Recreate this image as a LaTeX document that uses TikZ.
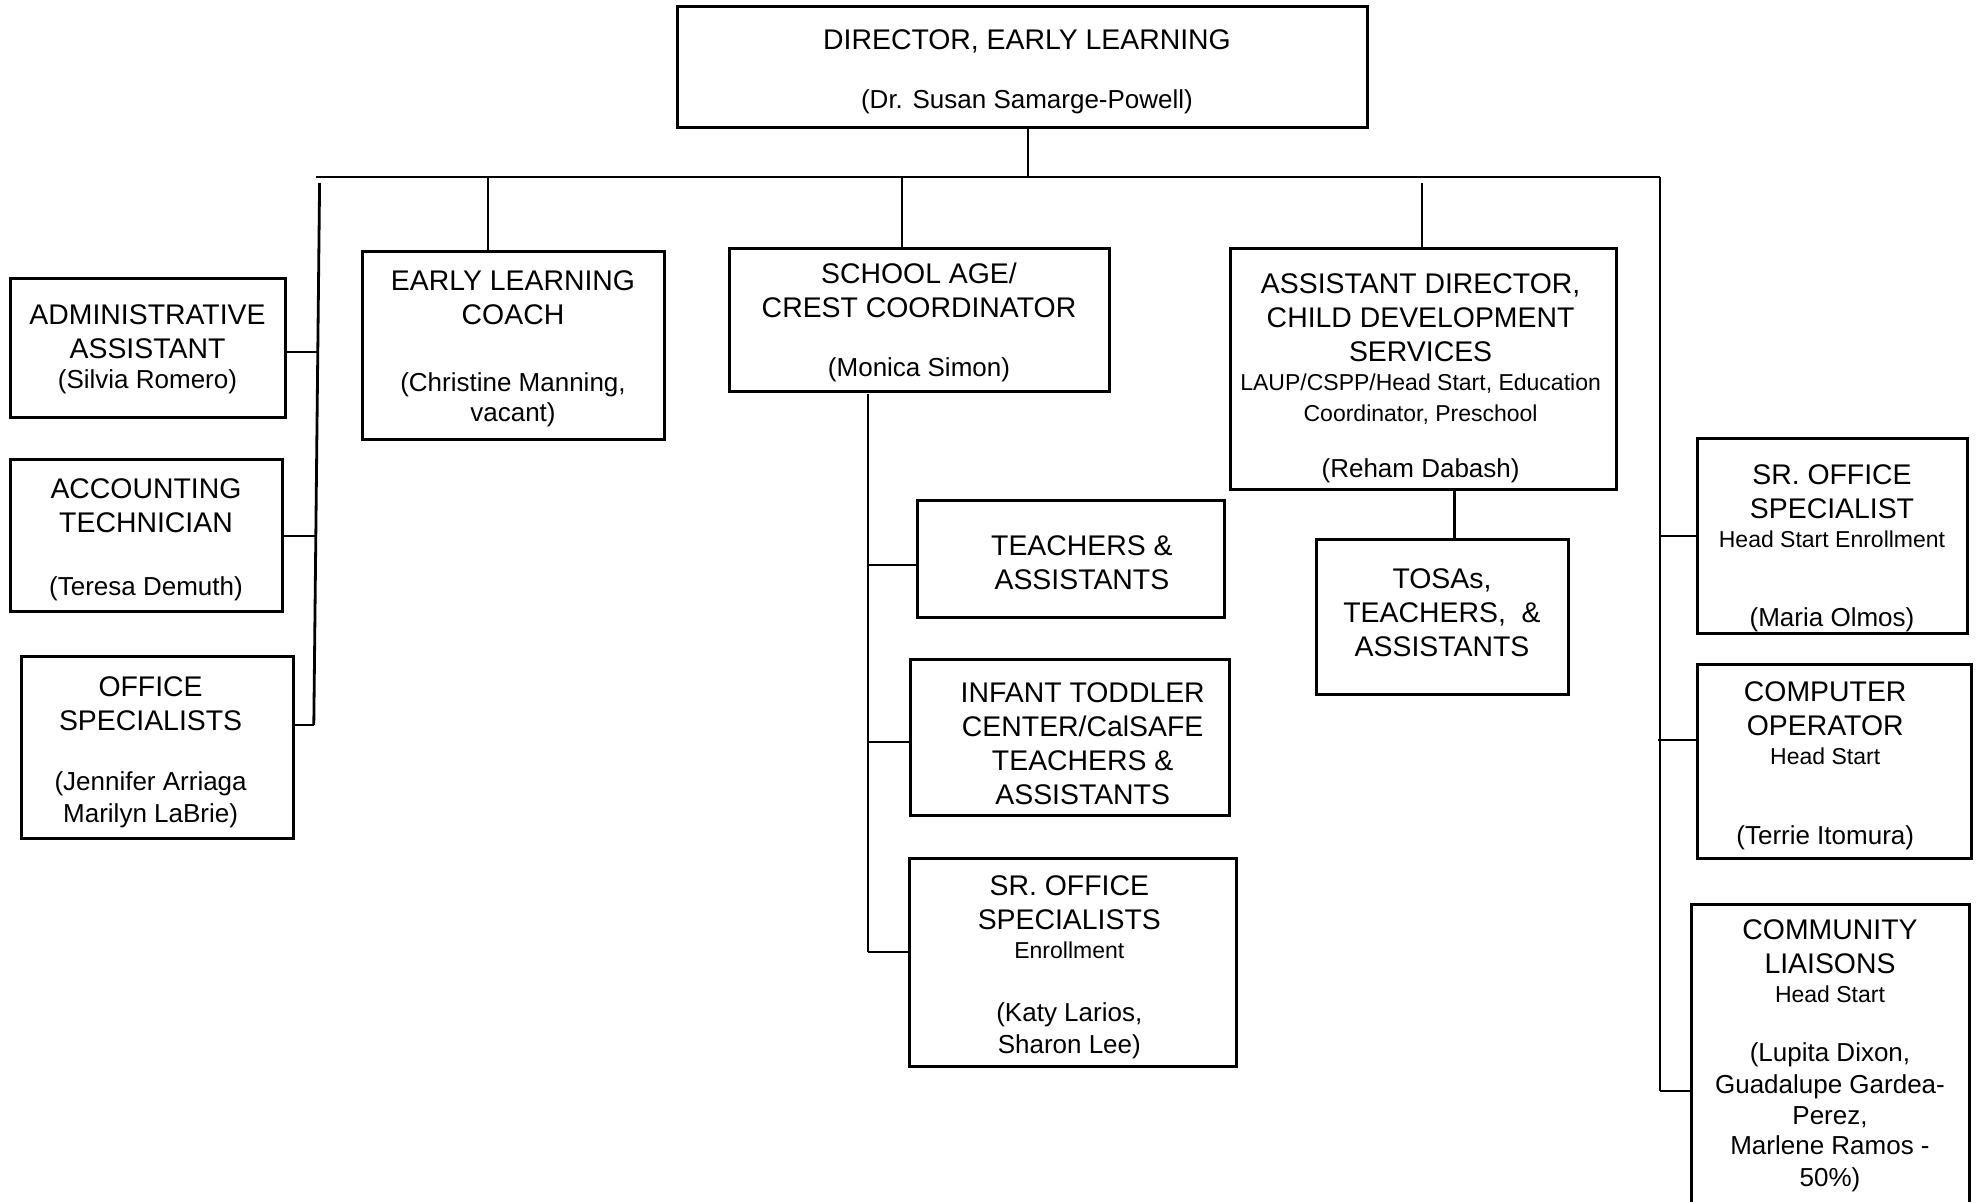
\documentclass[tikz,border=0pt]{standalone}
\usepackage{fontspec}
\setmainfont{Liberation Sans}
\usetikzlibrary{fit}

\newcommand\titre{\fontsize{14.2}{17}\selectfont}
\newcommand\nom{\fontsize{13}{15.6}\selectfont}
\newcommand\petit{\fontsize{11.5}{14}\selectfont}

\begin{document}
\begin{tikzpicture}[x=0.5pt,y=-0.5pt,
  boite/.style={draw,line width=1.5pt,inner sep=0pt},
  texte/.style={align=center,font=\titre,inner sep=0pt},
  trait/.style={line width=1.4pt}]

\useasboundingbox (0,0) rectangle (1978,1201);

% directeur

\node[boite,fit={(677,6) (1367,127)}] (dir) {};
\node[texte,xshift=2.5pt,yshift=-2.7pt] (dir_t) at (dir) {DIRECTOR, EARLY LEARNING\\[12.5pt] {\nom (Dr. Susan Samarge-Powell)}};

% ligne principale

\coordinate (bus_g) at (316,177) ;
\coordinate (bus_d) at (1660,177) ;
\coordinate (p_dir) at (1028,177) ;
\draw[trait] (p_dir |- dir.south) -- (p_dir) ;
\draw[trait] (bus_g) -- (bus_d) ;

% colonne de gauche

\node[boite,fit={(10,278) (285,417)}] (adm) {};
\node[texte,yshift=-0.8pt] (adm_t) at (adm) {ADMINISTRATIVE\\ ASSISTANT\\[-2pt] {\nom (Silvia Romero)}};
\node[boite,fit={(10,459) (282,611)}] (compta) {};
\node[texte,yshift=-2.4pt] (compta_t) at (compta) {ACCOUNTING\\ TECHNICIAN\\[14.5pt] {\nom (Teresa Demuth)}};
\node[boite,fit={(21,656) (293,838)}] (bureau) {};
\node[texte,xshift=-3.2pt,yshift=-2.7pt] (bureau_t) at (bureau) {OFFICE\\ SPECIALISTS\\[13pt] {\nom (Jennifer Arriaga}\\[-1pt] {\nom Marilyn LaBrie)}};

\coordinate (g_haut) at (319.6,183) ;
\coordinate (g_bas) at (313.8,725) ;
\coordinate (g1) at (317.8,352) ;
\coordinate (g2) at (315.8,536) ;
\draw[trait] (g_haut) -- (g_bas) ;
\draw[trait] (g1) -- (g1 -| adm.east) ;
\draw[trait] (g2) -- (g2 -| compta.east) ;
\draw[trait] (g_bas) -- (g_bas -| bureau.east) ;

% coach

\node[boite,fit={(362,251) (664,439)}] (coach) {};
\node[texte,yshift=-2.0pt] (coach_t) at (coach) {EARLY LEARNING\\ COACH\\[16.5pt] {\nom (Christine Manning,}\\[-2pt] {\nom vacant)}};
\coordinate (p_coach) at (488,177) ;
\draw[trait] (p_coach) -- (p_coach |- coach.north) ;

% age scolaire

\node[boite,fit={(729,248) (1109,391)}] (scol) {};
\node[texte,yshift=-1.4pt] (scol_t) at (scol) {SCHOOL AGE/\\ CREST COORDINATOR\\[12.6pt] {\nom (Monica Simon)}};
\coordinate (p_scol) at (902,177) ;
\draw[trait] (p_scol) -- (p_scol |- scol.north) ;

\node[boite,fit={(917,500) (1224,617)}] (ens) {};
\node[texte,xshift=5.7pt,yshift=-2.0pt] (ens_t) at (ens) {TEACHERS \&\\ ASSISTANTS};
\node[boite,fit={(910,659) (1229,815)}] (bebe) {};
\node[texte,xshift=6.6pt,yshift=-3.3pt] (bebe_t) at (bebe) {INFANT TODDLER\\ CENTER/CalSAFE\\ TEACHERS \&\\ ASSISTANTS};
\node[boite,fit={(909,858) (1236,1066)}] (inscr) {};
\node[texte,xshift=-1.6pt,yshift=-2.7pt] (inscr_t) at (inscr) {SR. OFFICE\\ SPECIALISTS\\[-2.5pt] {\petit Enrollment}\\[14.5pt] {\nom (Katy Larios,}\\[-1.2pt] {\nom Sharon Lee)}};

\coordinate (s_haut) at (868,394) ;
\coordinate (s1) at (868,565) ;
\coordinate (s2) at (868,742) ;
\coordinate (s_bas) at (868,952) ;
\draw[trait] (s_haut) -- (s_bas) ;
\draw[trait] (s1) -- (s1 -| ens.west) ;
\draw[trait] (s2) -- (s2 -| bebe.west) ;
\draw[trait] (s_bas) -- (s_bas -| inscr.west) ;

% directeur adjoint

\node[boite,fit={(1230,248) (1616,489)}] (adj) {};
\node[texte,xshift=-1.2pt,yshift=-5.0pt] (adj_t) at (adj) {ASSISTANT DIRECTOR,\\ CHILD DEVELOPMENT\\ SERVICES\\[-2.5pt] {\petit LAUP/CSPP/Head Start, Education}\\[-1.8pt] {\petit Coordinator, Preschool}\\[11.4pt] {\nom (Reham Dabash)}};
\coordinate (p_adj) at (1422,183) ;
\draw[trait] (p_adj) -- (p_adj |- adj.north) ;

\node[boite,fit={(1316,539) (1568,694)}] (tosa) {};
\node[texte,yshift=2.0pt] (tosa_t) at (tosa) {TOSAs,\\ TEACHERS,\ \ \&\\ ASSISTANTS};
\coordinate (p_tosa) at (1454.5,489) ;
\draw[trait] (p_tosa) -- (p_tosa |- tosa.north) ;

% colonne de droite

\node[boite,fit={(1697,438) (1967,633)}] (hs1) {};
\node[texte,yshift=-6.5pt] (hs1_t) at (hs1) {SR. OFFICE\\ SPECIALIST\\[-2.5pt] {\petit Head Start Enrollment}\\[22.7pt] {\nom (Maria Olmos)}};
\node[boite,fit={(1697,664) (1971,858)}] (hs2) {};
\node[texte,xshift=-4.4pt,yshift=-2.4pt] (hs2_t) at (hs2) {COMPUTER\\ OPERATOR\\[-2.5pt] {\petit Head Start}\\[22.7pt] {\nom (Terrie Itomura)}};
\node[boite,fit={(1691,904) (1969,1205)}] (hs3) {};
\node[texte,yshift=-0.8pt] (hs3_t) at (hs3) {COMMUNITY\\ LIAISONS\\[-2.5pt] {\petit Head Start}\\[12.5pt] {\nom (Lupita Dixon,}\\[-1pt] {\nom Guadalupe Gardea-}\\[-1.5pt] {\nom Perez,}\\[-2pt] {\nom Marlene Ramos -}\\[-1pt] {\nom 50\%)}};

\coordinate (d1) at (1660,536) ;
\coordinate (d2) at (1658,740) ;
\coordinate (d_bas) at (1660,1091) ;
\draw[trait] (bus_d) -- (d_bas) ;
\draw[trait] (d1) -- (d1 -| hs1.west) ;
\draw[trait] (d2) -- (d2 -| hs2.west) ;
\draw[trait] (d_bas) -- (d_bas -| hs3.west) ;

\end{tikzpicture}
\end{document}
